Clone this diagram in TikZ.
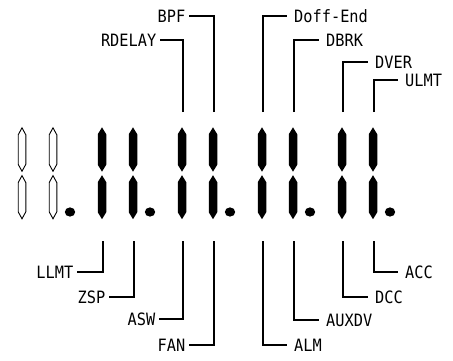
\documentclass[tikz,border=0pt]{standalone}
\usepackage{fontspec}
\usepackage{tikz}
\usetikzlibrary{positioning,calc}
\newfontfamily\lcdfont[FakeStretch=0.9]{DejaVu Sans Mono}
\tikzset{
  seglit/.style={fill=black,draw=none},
  segoff/.style={fill=white,draw=black,line width=0.9pt},
  segdot/.style={fill=black,draw=none},
  leader/.style={draw=black,line width=1.2pt},
  tagleft/.style={anchor=east,font=\lcdfont\fontsize{17}{17}\selectfont,inner xsep=3.5pt,inner ysep=0pt,text height=12.4pt,text depth=0pt},
  tagright/.style={tagleft,anchor=west,inner xsep=7pt}
}
% one bar of the display: [half width]{style}{x}{top}{bottom}
\newcommand{\lcdseg}[5][4.25]{%
  \path[#2] (#3,#4) -- (#3+#1,#4+7) -- (#3+#1,#5-7) -- (#3,#5) -- (#3-#1,#5-7) -- (#3-#1,#4+7) -- cycle;}
\begin{document}
\begin{tikzpicture}[x=1pt,y=-1pt]
\useasboundingbox (0,0) rectangle (453,360);

% unlit first digit
\foreach \sx in {22,53} {
  \lcdseg[3.8]{segoff}{\sx}{127.8}{171.3}
  \lcdseg[3.8]{segoff}{\sx}{175.6}{218.8}
}
% lit digits
\foreach \sx in {102,133,182,213,262,293,342,373} {
  \lcdseg{seglit}{\sx}{127.3}{171.7}
  \lcdseg{seglit}{\sx}{175.2}{219.2}
}
% decimal points
\foreach \dx in {70,150,230,310,390}
  \fill[segdot] (\dx,212) ellipse [x radius=5.2pt,y radius=4.6pt];

% leader ends at the bars
\foreach \sx/\nm in {102/b1,133/b2,182/b3,213/b4,262/b5,293/b6,342/b7,373/b8} {
  \coordinate (t\nm) at (\sx+1,112);
  \coordinate (d\nm) at (\sx+1,241);
}

% labels above
\node[tagleft]  (rdelay)  at (160,40) {RDELAY};
\node[tagleft]  (bpf)     at (189,16) {BPF};
\node[tagright] (doffend) at (287,16) {Doff-End};
\node[tagright] (dbrk)    at (319,40) {DBRK};
\node[tagright] (dver)    at (368,62) {DVER};
\node[tagright] (ulmt)    at (398,80) {ULMT};
\draw[leader] (tb3) |- (rdelay.east);
\draw[leader] (tb4) |- (bpf.east);
\draw[leader] (tb5) |- (doffend.west);
\draw[leader] (tb6) |- (dbrk.west);
\draw[leader] (tb7) |- (dver.west);
\draw[leader] (tb8) |- (ulmt.west);

% labels below
\node[tagleft]  (llmt)  at (77,272)  {LLMT};
\node[tagleft]  (zsp)   at (109,297) {ZSP};
\node[tagleft]  (asw)   at (159,319) {ASW};
\node[tagleft]  (fan)   at (189,345) {FAN};
\node[tagright] (alm)   at (287,345) {ALM};
\node[tagright] (auxdv) at (319,320) {AUXDV};
\node[tagright] (dcc)   at (368,297) {DCC};
\node[tagright] (acc)   at (398,272) {ACC};
\draw[leader] (db1) |- (llmt.east);
\draw[leader] (db2) |- (zsp.east);
\draw[leader] (db3) |- (asw.east);
\draw[leader] (db4) |- (fan.east);
\draw[leader] (db5) |- (alm.west);
\draw[leader] (db6) |- (auxdv.west);
\draw[leader] (db7) |- (dcc.west);
\draw[leader] (db8) |- (acc.west);
\end{tikzpicture}
\end{document}
